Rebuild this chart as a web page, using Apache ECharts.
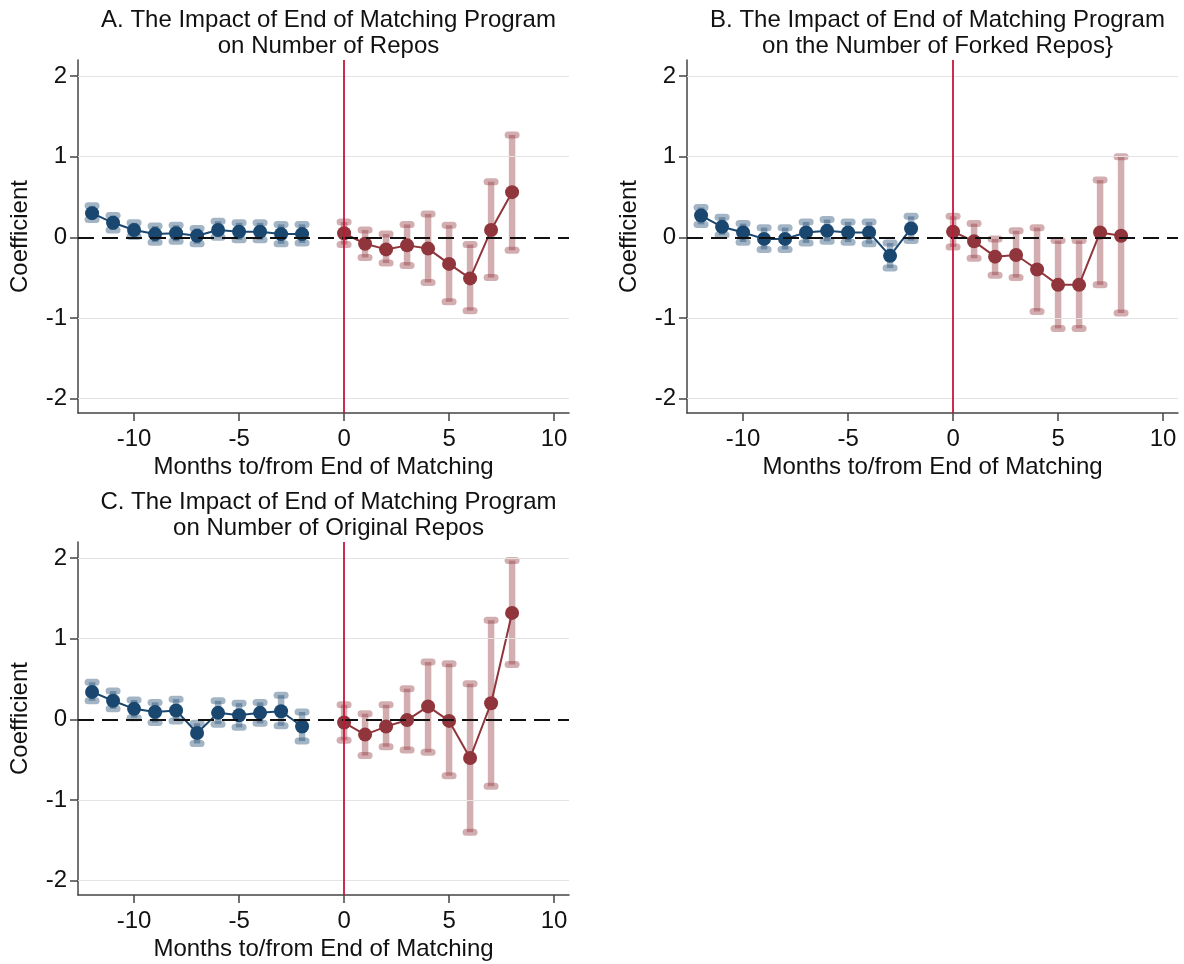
<!DOCTYPE html>
<html>
<head>
<meta charset="utf-8">
<script src="https://cdn.jsdelivr.net/npm/echarts@6/dist/echarts.min.js"></script>
<style>html,body{margin:0;padding:0;background:#fff}#chart{width:1184px;height:964px}</style>
</head>
<body>
<div id="chart"></div>
<script>
// ---- Data ----
const monthsPre = [-12, -11, -10, -9, -8, -7, -6, -5, -4, -3, -2];
const monthsPost = [0, 1, 2, 3, 4, 5, 6, 7, 8];
const xTicks = [-10, -5, 0, 5, 10];
const yTicks = [-2, -1, 0, 1, 2];

// Panel A: Number of Repos
const aPreCoef = [0.30, 0.18, 0.09, 0.04, 0.05, 0.02, 0.09, 0.07, 0.07, 0.04, 0.04];
const aPreLo   = [0.22, 0.09, 0.01, -0.06, -0.05, -0.08, 0.00, -0.03, -0.03, -0.08, -0.07];
const aPreHi   = [0.39, 0.27, 0.18, 0.14, 0.15, 0.11, 0.20, 0.18, 0.18, 0.16, 0.16];
const aPostCoef = [0.05, -0.08, -0.15, -0.10, -0.14, -0.33, -0.51, 0.09, 0.56];
const aPostLo   = [-0.09, -0.25, -0.32, -0.35, -0.56, -0.80, -0.91, -0.50, -0.16];
const aPostHi   = [0.19, 0.09, 0.04, 0.16, 0.29, 0.15, -0.09, 0.69, 1.27];

// Panel B: Number of Forked Repos
const bPreCoef = [0.27, 0.13, 0.06, -0.02, -0.02, 0.06, 0.08, 0.06, 0.06, -0.23, 0.11];
const bPreLo   = [0.16, 0.03, -0.06, -0.15, -0.15, -0.07, -0.05, -0.06, -0.08, -0.38, -0.04];
const bPreHi   = [0.37, 0.25, 0.17, 0.12, 0.12, 0.19, 0.22, 0.19, 0.19, -0.07, 0.26];
const bPostCoef = [0.07, -0.05, -0.24, -0.22, -0.40, -0.59, -0.59, 0.06, 0.02];
const bPostLo   = [-0.12, -0.26, -0.47, -0.50, -0.92, -1.13, -1.13, -0.59, -0.94];
const bPostHi   = [0.26, 0.17, -0.02, 0.08, 0.12, -0.04, -0.04, 0.71, 1.00];

// Panel C: Number of Original Repos
const cPreCoef = [0.34, 0.23, 0.13, 0.09, 0.11, -0.17, 0.08, 0.05, 0.08, 0.10, -0.09];
const cPreLo   = [0.23, 0.13, 0.02, -0.04, -0.02, -0.30, -0.06, -0.10, -0.05, -0.08, -0.27];
const cPreHi   = [0.46, 0.35, 0.24, 0.21, 0.25, -0.05, 0.23, 0.20, 0.21, 0.30, 0.09];
const cPostCoef = [-0.04, -0.19, -0.09, -0.01, 0.16, -0.02, -0.48, 0.20, 1.32];
const cPostLo   = [-0.26, -0.45, -0.34, -0.38, -0.41, -0.70, -1.40, -0.83, 0.68];
const cPostHi   = [0.18, 0.07, 0.18, 0.38, 0.71, 0.69, 0.44, 1.23, 1.97];

const titleA = 'A. The Impact of End of Matching Program\non Number of Repos';
const titleB = 'B. The Impact of End of Matching Program\non the Number of Forked Repos}';
const titleC = 'C. The Impact of End of Matching Program\non Number of Original Repos';
const xName = 'Months to/from End of Matching';
const yName = 'Coefficient';

// ---- Styling ----
const FONT = '"Liberation Sans", Arial, sans-serif';
const FS = 24;
const NAVY = '#1a476f';
const MAROON = '#90353b';
const XLINE = '#c8143c';

const panels = [
  {title: titleA, left: 78, top: 60, pre: [aPreCoef, aPreLo, aPreHi], post: [aPostCoef, aPostLo, aPostHi]},
  {title: titleB, left: 687, top: 60, pre: [bPreCoef, bPreLo, bPreHi], post: [bPostCoef, bPostLo, bPostHi]},
  {title: titleC, left: 78, top: 542, pre: [cPreCoef, cPreLo, cPreHi], post: [cPostCoef, cPostLo, cPostHi]}
];
const GW = 491, GH = 353;

function ciRender(color) {
  return function (params, api) {
    const x = api.value(0), lo = api.value(1), hi = api.value(2);
    const pLo = api.coord([x, lo]);
    const pHi = api.coord([x, hi]);
    const hw = 4;
    const st = {stroke: color, lineWidth: 6.5, opacity: 0.4, lineCap: 'butt'};
    const cap = {stroke: color, lineWidth: 7, opacity: 0.4, lineCap: 'round'};
    return {
      type: 'group',
      children: [
        {type: 'line', shape: {x1: pLo[0], y1: pLo[1], x2: pHi[0], y2: pHi[1]}, style: st},
        {type: 'line', shape: {x1: pLo[0] - hw, y1: pLo[1], x2: pLo[0] + hw, y2: pLo[1]}, style: cap},
        {type: 'line', shape: {x1: pHi[0] - hw, y1: pHi[1], x2: pHi[0] + hw, y2: pHi[1]}, style: cap}
      ]
    };
  };
}

const option = {
  animation: false,
  backgroundColor: '#fff',
  title: [], grid: [], xAxis: [], yAxis: [], series: []
};

panels.forEach((p, i) => {
  option.title.push({
    text: p.title,
    left: p.left + GW / 2,
    top: p.top - 58,
    textAlign: 'center',
    textStyle: {fontFamily: FONT, fontSize: FS, fontWeight: 'normal', color: '#111', lineHeight: 26}
  });
  option.grid.push({left: p.left, top: p.top, width: GW, height: GH, containLabel: false});
  option.xAxis.push({
    type: 'value', gridIndex: i, min: -12.67, max: 10.71,
    name: xName, nameLocation: 'middle', nameGap: 42,
    nameTextStyle: {fontFamily: FONT, fontSize: FS, color: '#111'},
    axisLine: {show: true, onZero: false, lineStyle: {color: '#444', width: 1.5}},
    axisTick: {show: true, length: 8, customValues: xTicks, lineStyle: {color: '#444', width: 1.5}},
    axisLabel: {customValues: xTicks, fontFamily: FONT, fontSize: FS, color: '#111', margin: 14},
    splitLine: {show: false}
  });
  option.yAxis.push({
    type: 'value', gridIndex: i, min: -2.18, max: 2.2,
    name: yName, nameLocation: 'middle', nameGap: 46, nameRotate: 90,
    nameTextStyle: {fontFamily: FONT, fontSize: FS, color: '#111'},
    axisLine: {show: true, onZero: false, lineStyle: {color: '#444', width: 1.5}},
    axisTick: {show: true, length: 8, customValues: yTicks, lineStyle: {color: '#444', width: 1.5}},
    axisLabel: {customValues: yTicks, fontFamily: FONT, fontSize: FS, color: '#111', margin: 11},
    splitLine: {show: false}
  });
  // gridlines
  option.series.push({
    type: 'line', xAxisIndex: i, yAxisIndex: i, data: [], z: 0, silent: true,
    markLine: {
      silent: true, symbol: 'none', label: {show: false}, animation: false,
      lineStyle: {color: '#e3e3e3', width: 1.2, type: 'solid'},
      data: yTicks.filter(v => v !== 0).map(v => ({yAxis: v}))
    }
  });
  // dashed zero line
  option.series.push({
    type: 'line', xAxisIndex: i, yAxisIndex: i, data: [], z: 1, silent: true,
    markLine: {
      silent: true, symbol: 'none', label: {show: false}, animation: false,
      lineStyle: {color: '#111', width: 2, type: [16, 8]},
      data: [{yAxis: 0}]
    }
  });
  // CIs
  option.series.push({
    type: 'custom', xAxisIndex: i, yAxisIndex: i, z: 2, silent: true,
    renderItem: ciRender(NAVY),
    data: monthsPre.map((m, k) => [m, p.pre[1][k], p.pre[2][k]])
  });
  option.series.push({
    type: 'custom', xAxisIndex: i, yAxisIndex: i, z: 2, silent: true,
    renderItem: ciRender(MAROON),
    data: monthsPost.map((m, k) => [m, p.post[1][k], p.post[2][k]])
  });
  // coefficient lines
  option.series.push({
    type: 'line', xAxisIndex: i, yAxisIndex: i, z: 3,
    data: monthsPre.map((m, k) => [m, p.pre[0][k]]),
    symbol: 'circle', symbolSize: 14, showSymbol: true,
    lineStyle: {color: NAVY, width: 2}, itemStyle: {color: NAVY}
  });
  option.series.push({
    type: 'line', xAxisIndex: i, yAxisIndex: i, z: 3,
    data: monthsPost.map((m, k) => [m, p.post[0][k]]),
    symbol: 'circle', symbolSize: 14, showSymbol: true,
    lineStyle: {color: MAROON, width: 2}, itemStyle: {color: MAROON}
  });
  // vertical line at 0
  option.series.push({
    type: 'line', xAxisIndex: i, yAxisIndex: i, data: [], z: 5, silent: true,
    markLine: {
      silent: true, symbol: 'none', label: {show: false}, animation: false,
      lineStyle: {color: XLINE, width: 1.8, type: 'solid'},
      data: [{xAxis: 0}]
    }
  });
});

const chart = echarts.init(document.getElementById('chart'), null, {renderer: 'canvas'});
chart.setOption(option);
</script>
</body>
</html>
